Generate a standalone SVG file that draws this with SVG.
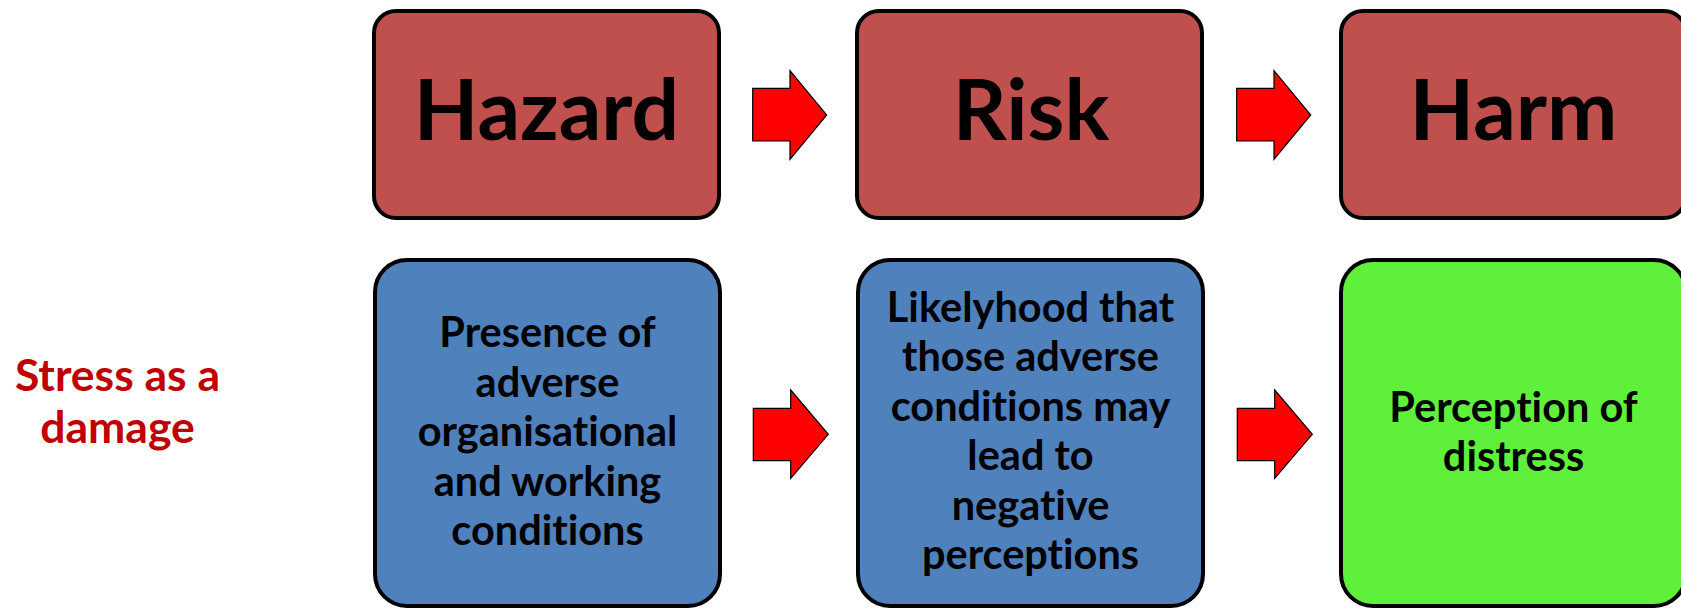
<svg xmlns="http://www.w3.org/2000/svg" width="1681" height="609" viewBox="0 0 1681 609">
<style>
.box{stroke:#000;stroke-width:4}
.red{fill:#C0504D}
.blue{fill:#4F81BD}
.green{fill:#5FF03C}
.arrow{fill:#FF0000;stroke:#000;stroke-width:1.2;stroke-linejoin:miter}
text{font-family:Lato,"Open Sans","Liberation Sans",sans-serif;font-weight:bold;text-anchor:middle;fill:#000;font-variant-ligatures:none}
.big{font-size:84px}
.mid{font-size:41.5px}
.side{font-size:44.5px;fill:#C00000}
</style>
<rect width="1681" height="609" fill="#fff"/>
<g id="label-stress">
<text class="side" x="117.5" y="391">Stress as a</text>
<text class="side" x="117.5" y="443">damage</text>
</g>
<g id="hazard">
<rect class="box red" x="374" y="11" width="345" height="207" rx="22"/>
<text class="big" x="546.5" y="140">Hazard</text>
</g>
<g id="risk">
<rect class="box red" x="857" y="11" width="345" height="207" rx="22"/>
<text class="big" x="1031" y="140">Risk</text>
</g>
<g id="harm">
<rect class="box red" x="1341" y="11" width="345" height="207" rx="22"/>
<text class="big" x="1513.5" y="140">Harm</text>
</g>
<g id="presence">
<rect class="box blue" x="375" y="260" width="345" height="346" rx="32"/>
<text class="mid" x="547.5" y="347">Presence of</text>
<text class="mid" x="547.5" y="396.5">adverse</text>
<text class="mid" x="547.5" y="446">organisational</text>
<text class="mid" x="547.5" y="495.5">and working</text>
<text class="mid" x="547.5" y="545">conditions</text>
</g>
<g id="likelyhood">
<rect class="box blue" x="858" y="260" width="345" height="346" rx="32"/>
<text class="mid" x="1030.5" y="321.5">Likelyhood that</text>
<text class="mid" x="1030.5" y="371">those adverse</text>
<text class="mid" x="1030.5" y="420.5">conditions may</text>
<text class="mid" x="1030.5" y="470">lead to</text>
<text class="mid" x="1030.5" y="519.5">negative</text>
<text class="mid" x="1030.5" y="569">perceptions</text>
</g>
<g id="distress">
<rect class="box green" x="1341" y="260" width="345" height="346" rx="32"/>
<text class="mid" x="1513.5" y="421.5">Perception of</text>
<text class="mid" x="1513.5" y="471">distress</text>
</g>
<g id="connectors">
<polygon class="arrow" points="752.7,88.3 790,88.3 790,70.7 826.7,115 790,159.3 790,141 752.7,141"/>
<polygon class="arrow" points="1236.7,88.3 1274,88.3 1274,70.7 1310.7,115 1274,159.3 1274,141 1236.7,141"/>
<polygon class="arrow" points="753.3,408.3 790.7,408.3 790.7,390 828.3,434.3 790.7,478.3 790.7,460.7 753.3,460.7"/>
<polygon class="arrow" points="1237.3,408.3 1274.7,408.3 1274.7,390 1312.3,434.3 1274.7,478.3 1274.7,460.7 1237.3,460.7"/>
</g>
</svg>
